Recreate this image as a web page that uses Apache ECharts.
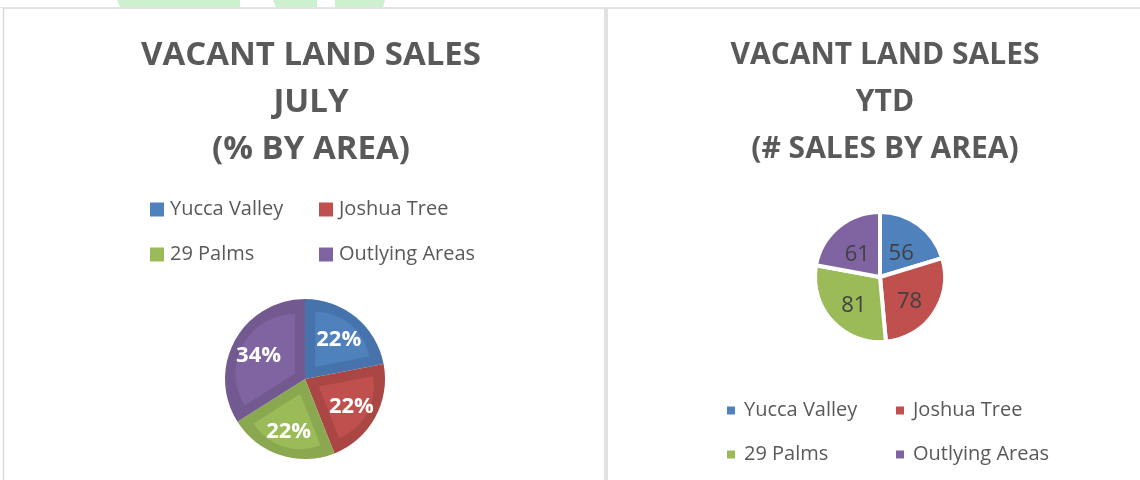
<!DOCTYPE html>
<html>
<head>
<meta charset="utf-8">
<script src="https://cdn.jsdelivr.net/npm/echarts@6/dist/echarts.min.js"></script>
<style>
html,body{margin:0;padding:0;background:#fff;}
#chart{width:1140px;height:480px;}
</style>
</head>
<body>
<div id="chart"></div>
<script>
// ---- data ----
const categories = ['Yucca Valley', 'Joshua Tree', '29 Palms', 'Outlying Areas'];
const julyPercent = [22, 22, 22, 34];
const ytdSales = [56, 78, 81, 61];
const leftTitle = ['VACANT LAND SALES', 'JULY', '(% BY AREA)'];
const rightTitle = ['VACANT LAND SALES', 'YTD', '(# SALES BY AREA)'];

// ---- styles ----
const mainColors = ['#4f81bd', '#c0504d', '#9bbb59', '#8064a2'];
const bandColors = ['#4673ab', '#aa4744', '#8aa84f', '#72598f'];
const FONT = 'Open Sans';
const GREY = '#595959';

const chart = echarts.init(document.getElementById('chart'), null, {renderer: 'canvas'});

const L = {cx: 305, cy: 379, r: 80, band: 10};
const R = {cx: 880, cy: 277, r: 65};

function dataOf(values, colorFn) {
  return values.map((v, i) => ({name: categories[i], value: v, itemStyle: {color: colorFn(i)}}));
}

// bevel overlays for the left pie: one shrunken sector per slice
const total = julyPercent.reduce((a, b) => a + b, 0);
const overlays = [];
let cum = 0;
julyPercent.forEach((v, i) => {
  const half = v / total * 180;
  const mid = 90 - (cum + v / 2) / total * 360;
  cum += v;
  const d = L.band / Math.sin(half * Math.PI / 180);
  const rad = mid * Math.PI / 180;
  overlays.push({
    type: 'pie', silent: true, animation: false, legendHoverLink: false,
    startAngle: 90, clockwise: true,
    center: [L.cx + d * Math.cos(rad), L.cy - d * Math.sin(rad)],
    radius: [0, L.r - d - L.band * 0.9],
    label: {show: false}, labelLine: {show: false},
    emphasis: {disabled: true},
    data: dataOf(julyPercent, j => j === i ? mainColors[j] : 'transparent'),
    z: 3
  });
});

const series = [
  {
    type: 'pie', animation: false, startAngle: 90, clockwise: true,
    center: [R.cx, R.cy], radius: [0, R.r],
    itemStyle: {borderColor: '#ffffff', borderWidth: 4},
    label: {show: true, position: 'inside', formatter: '{c}', fontFamily: FONT, fontSize: 22,
            color: '#404040', textBorderWidth: 0, offset: [0, 5]},
    labelLine: {show: false},
    emphasis: {disabled: true},
    data: dataOf(ytdSales, i => mainColors[i])
  },
  {
    type: 'pie', animation: false, startAngle: 90, clockwise: true,
    center: [L.cx, L.cy], radius: [0, L.r],
    label: {show: false}, labelLine: {show: false},
    emphasis: {disabled: true},
    data: dataOf(julyPercent, i => bandColors[i]),
    z: 2
  },
  ...overlays,
  {
    type: 'pie', silent: true, animation: false, startAngle: 90, clockwise: true,
    center: [L.cx, L.cy], radius: [20, L.r],
    label: {show: true, position: 'inside', formatter: '{c}%', fontFamily: FONT, fontSize: 22,
            fontWeight: 'bold', color: '#ffffff', textBorderWidth: 0, offset: [0, 2]},
    labelLine: {show: false},
    emphasis: {disabled: true},
    data: dataOf(julyPercent, () => 'transparent'),
    z: 4
  }
];

function legendCol(names, left, top, size, gap, textPad) {
  return {
    orient: 'vertical', left: left, top: top, data: names,
    icon: 'rect', itemWidth: size, itemHeight: size, itemGap: gap,
    selectedMode: false,
    itemStyle: {borderWidth: 0},
    textStyle: {fontFamily: FONT, fontSize: 20, color: GREY, lineHeight: 21, padding: [0, 0, 0, textPad]}
  };
}

chart.setOption({
  animation: false,
  title: [
    {text: leftTitle.join('\n'), left: 306, top: 27, textAlign: 'center',
     textStyle: {fontFamily: FONT, fontSize: 33, fontWeight: 'bold', color: GREY, lineHeight: 47}},
    {text: rightTitle.join('\n'), left: 880, top: 27, textAlign: 'center',
     textStyle: {fontFamily: FONT, fontSize: 30, fontWeight: 'bold', color: GREY, lineHeight: 47}}
  ],
  legend: [
    legendCol([categories[0], categories[2]], 145, 194, 14, 24, 1),
    legendCol([categories[1], categories[3]], 314, 194, 14, 24, 1),
    legendCol([categories[0], categories[2]], 722, 395, 8, 23, 4),
    legendCol([categories[1], categories[3]], 891, 395, 8, 23, 4)
  ],
  graphic: [
    {type: 'polygon', silent: true, shape: {points: [[117, 0], [240, 0], [240, 7], [120, 7]]}, style: {fill: '#cdf0cf'}},
    {type: 'polygon', silent: true, shape: {points: [[273, 0], [317, 0], [317, 7], [276, 7]]}, style: {fill: '#cdf0cf'}},
    {type: 'polygon', silent: true, shape: {points: [[335, 0], [385, 0], [383, 7], [335, 7]]}, style: {fill: '#cdf0cf'}},
    {type: 'rect', silent: true, shape: {x: 3.5, y: 8, width: 601.5, height: 480}, style: {fill: null, stroke: '#d9d9d9', lineWidth: 1.5}},
    {type: 'rect', silent: true, shape: {x: 607, y: 8, width: 540, height: 480}, style: {fill: null, stroke: '#d9d9d9', lineWidth: 1.5}},
    {type: 'line', silent: true, shape: {x1: 0, y1: 7.5, x2: 1140, y2: 7.5}, style: {stroke: '#e4e4e4', lineWidth: 1}}
  ],
  series: series
});
</script>
</body>
</html>
